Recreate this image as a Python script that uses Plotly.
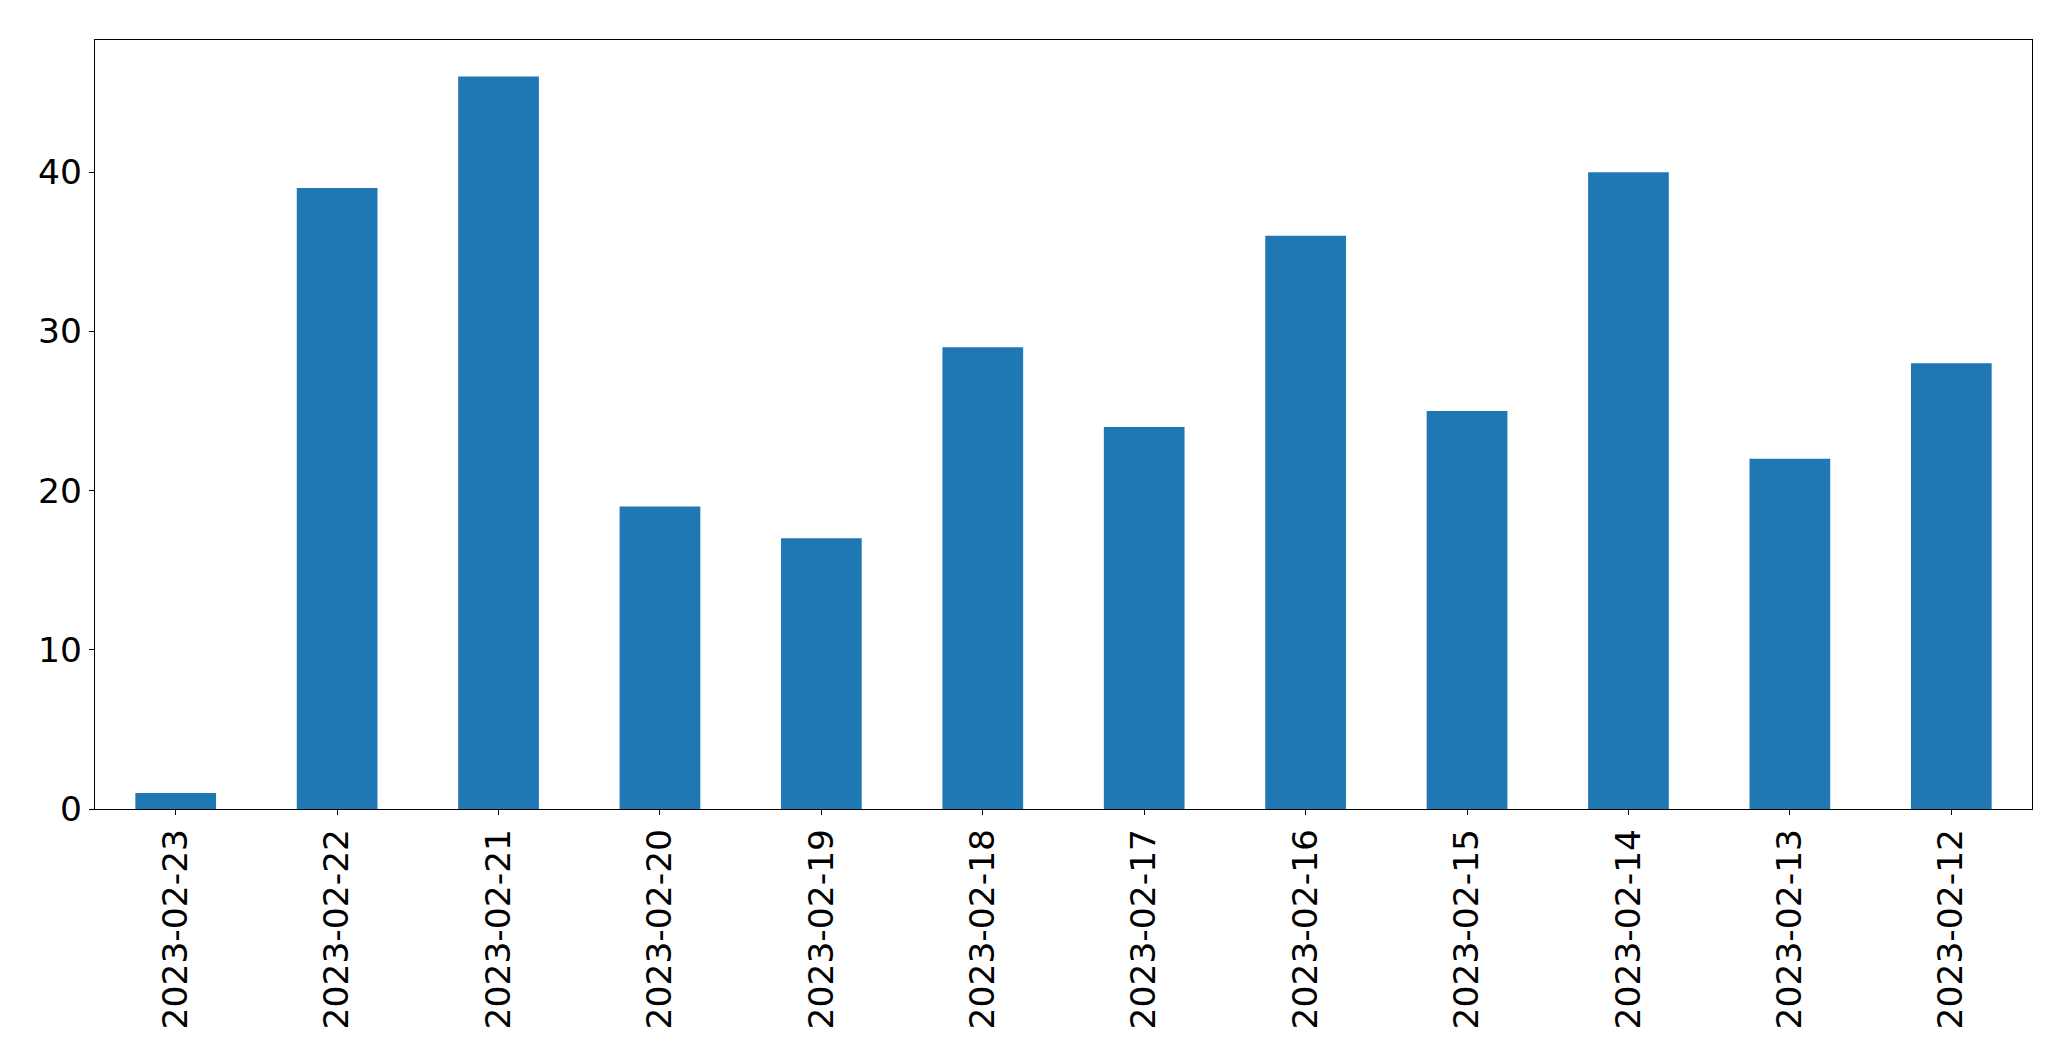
import plotly.graph_objects as go

dates = ["2023-02-23", "2023-02-22", "2023-02-21", "2023-02-20", "2023-02-19", "2023-02-18",
         "2023-02-17", "2023-02-16", "2023-02-15", "2023-02-14", "2023-02-13", "2023-02-12"]
counts = [1, 39, 46, 19, 17, 29, 24, 36, 25, 40, 22, 28]
y_ticks = [0, 10, 20, 30, 40]

fig = go.Figure(go.Bar(x=dates, y=counts, width=0.5, marker=dict(color="#1f77b4", line=dict(width=0))))

axis_font = dict(family="DejaVu Sans", size=34.5, color="black")
fig.update_layout(
    width=2055, height=1045,
    margin=dict(l=87, r=31, t=32, b=244, pad=0),
    plot_bgcolor="white", paper_bgcolor="white",
    showlegend=False,
    xaxis=dict(type="category", range=[-0.5, 11.5], tickangle=-90, tickfont=axis_font,
               showline=True, linecolor="black", linewidth=1.3, mirror=True,
               ticks="outside", ticklen=5, tickcolor="black", tickwidth=1.3,
               showgrid=False, zeroline=False),
    yaxis=dict(range=[0, 48.3], tickvals=y_ticks, tickfont=axis_font,
               showline=True, linecolor="black", linewidth=1.3, mirror=True,
               ticks="outside", ticklen=5, tickcolor="black", tickwidth=1.3,
               showgrid=False, zeroline=False),
)
fig.write_html("out.html")
